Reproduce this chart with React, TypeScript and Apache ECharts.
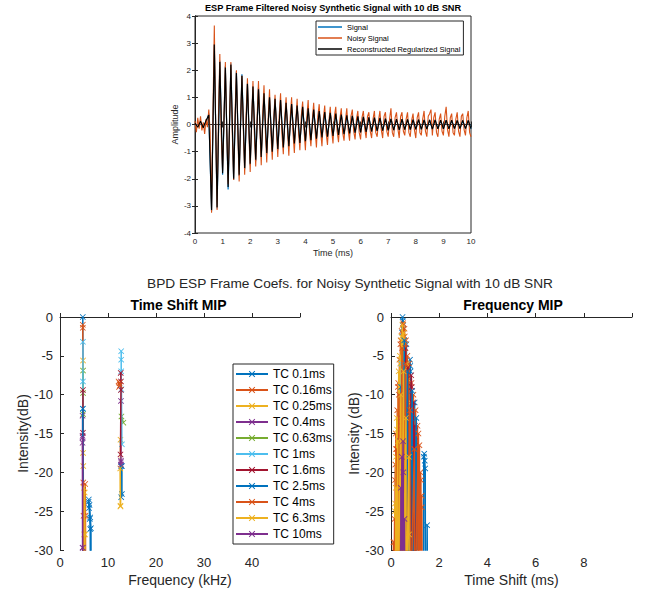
import React, { useEffect, useRef } from 'react';
import * as echarts from 'echarts';

const FONT = '"Liberation Sans", Arial, Helvetica, sans-serif';
const AX = '#262626';
const MATLAB_COLORS = ['#0072BD', '#D95319', '#EDB120', '#7E2F8E', '#77AC30', '#4DBEEE', '#A2142F'];
const X_SYMBOL = 'path://M0,1L1,0L5,4L9,0L10,1L6,5L10,9L9,10L5,6L1,10L0,9L4,5Z';

// ---------- Top panel: signals (amplitude), samples every 0.1 ms / 0.05 ms ----------
const signalStepMs = 0.1;
const signalValues = [
  0, 0, 0, 0, 0.05, 0.4, -3.2, 2.95, -3.1, 2.35,
  -1.85, 2.15, -2.4, 2.25, -2.05, 1.95, -1.9, 1.85, -1.65, 1.5,
  -1.5, 1.4, -1.35, 1.35, -1.2, 1.15, -1.1, 1.0, -1.0, 0.95,
  -0.95, 0.9, -0.85, 0.8, -0.8, 0.75, -0.72, 0.7, -0.68, 0.65,
  -0.63, 0.6, -0.58, 0.55, -0.53, 0.5, -0.48, 0.47, -0.45, 0.43,
  -0.42, 0.4, -0.39, 0.37, -0.36, 0.34, -0.33, 0.32, -0.31, 0.3,
  -0.29, 0.28, -0.27, 0.26, -0.26, 0.25, -0.24, 0.24, -0.23, 0.22,
  -0.22, 0.21, -0.21, 0.2, -0.2, 0.2, -0.19, 0.19, -0.19, 0.18,
  -0.18, 0.18, -0.18, 0.17, -0.17, 0.17, -0.17, 0.17, -0.16, 0.16,
  -0.16, 0.16, -0.16, 0.16, -0.15, 0.15, -0.15, 0.15, -0.15, 0.15,
  -0.15,
];
const reconstructedValues = [
  0.05, -0.1, 0.12, -0.12, 0.15, 0.35, -3.15, 2.95, -3.05, 2.3,
  -1.8, 2.1, -2.3, 2.2, -2.0, 1.9, -1.85, 1.8, -1.6, 1.5,
  -1.45, 1.4, -1.3, 1.3, -1.2, 1.15, -1.05, 1.0, -1.0, 0.95,
  -0.9, 0.9, -0.85, 0.8, -0.8, 0.75, -0.7, 0.7, -0.68, 0.65,
  -0.62, 0.6, -0.58, 0.55, -0.52, 0.5, -0.48, 0.46, -0.45, 0.43,
  -0.42, 0.4, -0.38, 0.37, -0.36, 0.34, -0.33, 0.32, -0.3, 0.3,
  -0.29, 0.28, -0.27, 0.26, -0.25, 0.25, -0.24, 0.24, -0.23, 0.22,
  -0.22, 0.21, -0.21, 0.2, -0.2, 0.2, -0.19, 0.19, -0.19, 0.18,
  -0.18, 0.18, -0.18, 0.17, -0.17, 0.17, -0.17, 0.17, -0.16, 0.16,
  -0.16, 0.16, -0.16, 0.16, -0.15, 0.15, -0.15, 0.15, -0.15, 0.15,
  -0.15,
];
const noisyStepMs = 0.05;
const noisyValues = [
  0.12, -0.28, 0.25, -0.15, 0.3, -0.22, 0.08, -0.35, 0.2, -0.1,
  0.55, -0.3, -3.25, 0.4, 3.65, -0.2, -3.15, 0.3, 2.6, -0.35,
  -1.7, 0.25, 2.3, -0.2, -2.2, 0.15, 2.3, -0.3, -2.05, 0.35,
  2.0, -0.25, -2.1, 0.2, 1.8, -0.15, -1.85, 0.3, 1.7, -0.2,
  -1.75, 0.1, 1.6, -0.3, -1.55, 0.25, 1.6, -0.1, -1.5, 0.3,
  1.45, -0.25, -1.4, 0.2, 1.3, -0.3, -1.3, 0.15, 1.1, -0.2,
  -1.2, 0.3, 1.15, -0.35, -1.1, 0.2, 1.0, -0.15, -1.15, 0.25,
  1.0, -0.3, -1.05, 0.1, 0.95, -0.25, -0.95, 0.3, 0.85, -0.2,
  -0.95, 0.25, 0.9, -0.3, -0.8, 0.15, 0.8, -0.2, -0.85, 0.3,
  0.75, -0.25, -0.8, 0.2, 0.7, -0.3, -0.75, 0.1, 0.65, -0.2,
  -0.7, 0.3, 0.65, -0.25, -0.65, 0.2, 0.6, -0.3, -0.6, 0.15,
  0.6, -0.2, -0.6, 0.3, 0.55, -0.25, -0.55, 0.2, 0.5, -0.3,
  -0.55, 0.25, 0.5, -0.15, -0.5, 0.3, 0.45, -0.25, -0.5, 0.2,
  0.5, -0.3, -0.45, 0.15, 0.5, -0.2, -0.5, 0.3, 0.45, -0.25,
  -0.45, 0.2, 0.6, -0.3, -0.45, 0.25, 0.45, -0.15, -0.5, 0.3,
  0.45, -0.25, -0.4, 0.2, 0.45, -0.3, -0.45, 0.15, 0.4, -0.2,
  -0.5, 0.25, 0.45, -0.3, -0.4, 0.2, 0.5, -0.25, -0.45, 0.3,
  0.4, 0.55, -0.4, 0.25, 0.45, -0.3, -0.45, 0.2, 0.4, -0.25,
  -0.4, 0.3, 0.65, -0.2, -0.45, 0.25, 0.4, -0.3, -0.4, 0.2,
  0.45, -0.25, -0.45, 0.3, 0.4, -0.2, -0.4, 0.25, 0.5, -0.3,
  -0.45,
];

// ---------- Bottom panels ----------
const tcLabels = [
  'TC 0.1ms', 'TC 0.16ms', 'TC 0.25ms', 'TC 0.4ms', 'TC 0.63ms', 'TC 1ms',
  'TC 1.6ms', 'TC 2.5ms', 'TC 4ms', 'TC 6.3ms', 'TC 10ms',
];
const freqTicksKHz = [0, 10, 20, 30, 40];
const timeShiftTicksMs = [0, 2, 4, 6, 8];

// "Time Shift MIP": [frequency kHz, intensity dB]; '-' breaks a line
const timeShiftMipPoints: any[][][] = [
  [[4.75, 0], [4.75, -40], [4.75, '-'], [5.95, -23.8], [6.05, -24.6], [6.15, -24.2], [6.3, -25.8], [6.45, -27.2], [6.5, -40], [6.5, '-'], [12.9, -19.2], [12.9, -22.8]],
  [[4.75, -1.0], [4.75, -1.4], [4.8, -40], [4.8, '-'], [5.25, -21.5], [5.3, -25.6], [5.35, -40], [5.35, '-'], [12.2, -8.3], [12.3, -9.0]],
  [[4.8, -5.6], [4.8, -17.5], [4.85, -19.2], [4.9, -40], [4.9, '-'], [5.15, -22.6], [5.2, -28], [5.25, -40], [5.25, '-'], [12.6, -15.8], [12.6, -24.3]],
  [[4.7, -12.7], [4.7, -15.3], [4.7, -16.2], [4.72, -29.7], [4.72, -40], [4.72, '-'], [12.7, -10.8], [12.7, -18.7]],
  [[4.8, -6.9], [4.8, -9.8], [4.8, -12.5], [4.85, -40], [4.85, '-'], [12.8, -12.8], [13.2, -13.6]],
  [[4.78, -3.2], [4.78, -8.3], [4.78, -11.8], [4.8, -40], [4.8, '-'], [12.75, -4.4], [12.75, -5.5], [12.75, -7.0], [12.8, -9.3], [12.9, -16.4]],
  [[4.78, -9.4], [4.78, -14.9], [4.8, -40], [4.8, '-'], [12.65, -7.2], [12.7, -8.3], [12.7, -9.4], [12.6, -17.7]],
  [[4.75, -11.8], [4.78, -40], [4.78, '-'], [6.0, -23.5], [6.2, -26], [6.3, -27.3], [6.35, -40], [6.35, '-'], [12.75, -19.2], [12.75, -23.2]],
  [[4.85, -21.3], [4.9, -25.6], [4.95, -40], [4.95, '-'], [12.4, -8.5], [12.5, -8.8]],
  [[5.0, -22], [5.05, -28], [5.1, -40], [5.1, '-'], [12.55, -19.5], [12.6, -24.4]],
  [[4.7, -15.5], [4.72, -29.7], [4.75, -40], [4.75, '-'], [12.7, -18.5], [12.7, -19]],
];

// "Frequency MIP": [time shift ms, intensity dB]
const frequencyMipPoints: any[][][] = [
  [[0.22, -40], [0.24, -27], [0.26, -40], [0.44, -40], [0.46, -2], [0.48, 0], [0.49, -0.5], [0.5, -1.5], [0.52, -40], [0.62, -40], [0.64, -3.5], [0.66, -40], [0.78, -40], [0.79, -5.5], [0.8, -6.3], [0.81, -7], [0.83, -40], [0.96, -40], [0.98, -11], [1.0, -40], [1.34, -40], [1.36, -18], [1.38, -17.6], [1.4, -18.5], [1.42, -19.5], [1.43, -40], [1.48, -40], [1.5, -26.8], [1.52, -40]],
  [[0.12, -40], [0.14, -29], [0.16, -40], [0.17, -21], [0.18, -19], [0.19, -40], [0.2, -15], [0.21, -17], [0.22, -40], [0.26, -12], [0.27, -40], [0.29, -9], [0.3, -8.5], [0.31, -40], [0.35, -5.5], [0.36, -40], [0.39, -3.5], [0.4, -3], [0.41, -40], [0.44, -1.8], [0.45, -40], [0.5, -0.8], [0.51, -1], [0.53, -40], [0.56, -1.5], [0.57, -2.5], [0.58, -40], [0.62, -3], [0.63, -40], [0.68, -5], [0.69, -40], [0.75, -6], [0.76, -40], [0.85, -8.5], [0.86, -40], [0.93, -10], [0.94, -40], [1.02, -12], [1.03, -40], [1.1, -14], [1.11, -40], [1.18, -16.5], [1.19, -40], [1.22, -20], [1.24, -21], [1.25, -40], [1.27, -23], [1.28, -24.5], [1.3, -40]],
  [[0.14, -40], [0.16, -25], [0.17, -24], [0.18, -40], [0.21, -18], [0.22, -40], [0.24, -13], [0.25, -14.5], [0.26, -40], [0.32, -7], [0.33, -40], [0.37, -5], [0.38, -6], [0.39, -40], [0.43, -2.5], [0.44, -40], [0.47, -1], [0.48, -40], [0.53, -2], [0.54, -3], [0.55, -40], [0.59, -4], [0.6, -40], [0.65, -6], [0.66, -12], [0.67, -40], [0.71, -8], [0.72, -40], [0.76, -21], [0.77, -23], [0.78, -40], [0.82, -11], [0.83, -40], [0.88, -26], [0.89, -40]],
  [[0.36, -40], [0.37, -16], [0.38, -40], [0.42, -13], [0.43, -14], [0.44, -40], [0.46, -15], [0.47, -17], [0.48, -40], [0.5, -19], [0.51, -40], [0.53, -21], [0.54, -23], [0.55, -40], [0.57, -24], [0.58, -40]],
  [[0.38, -40], [0.4, -10], [0.41, -40], [0.48, -9], [0.49, -40], [0.56, -12], [0.57, -14], [0.58, -40], [0.64, -13], [0.65, -40]],
  [[0.28, -40], [0.3, -25], [0.31, -40], [0.44, -6], [0.45, -40], [0.52, -9], [0.53, -40], [0.6, -11], [0.61, -17], [0.62, -40], [0.7, -15], [0.71, -40]],
  [[0.58, -40], [0.6, -4], [0.61, -40], [0.7, -6.5], [0.71, -40], [0.84, -7.5], [0.86, -9], [0.87, -40], [0.92, -11], [0.93, -40], [0.99, -14], [1.0, -16], [1.01, -40]],
  [[0.3, -40], [0.32, -21], [0.33, -40], [0.42, -9], [0.43, -40], [0.55, -3], [0.56, -40], [0.68, -7], [0.69, -40], [0.88, -9.5], [0.89, -40], [1.05, -13], [1.06, -40]],
  [[0.08, -40], [0.1, -29], [0.11, -40], [0.15, -26], [0.16, -40], [0.24, -17], [0.25, -40], [0.33, -10], [0.34, -40], [0.46, -4], [0.47, -40], [0.6, -6], [0.61, -40], [0.79, -12], [0.8, -40], [0.97, -17], [0.98, -40], [1.14, -15], [1.15, -40]],
  [[0.18, -40], [0.2, -22], [0.21, -40], [0.28, -16], [0.29, -40], [0.41, -10], [0.42, -40], [0.52, -7], [0.53, -40], [0.62, -13], [0.63, -40], [0.74, -18], [0.75, -28], [0.76, -40]],
  [[0.4, -40], [0.41, -22], [0.42, -40], [0.45, -18], [0.46, -40], [0.5, -16], [0.51, -20], [0.52, -40], [0.56, -26], [0.57, -40]],
];

function toXY(values: number[], step: number) {
  return values.map((v, i) => [Math.round(i * step * 1000) / 1000, v]);
}

const tickStyle = { show: true, inside: true, length: 3, lineStyle: { color: AX, width: 1 } };
const lineAxis = { show: true, lineStyle: { color: AX, width: 1 } };

export default function App() {
  const ref = useRef<HTMLDivElement>(null);
  useEffect(() => {
    document.body.style.margin = '0';
    if (!ref.current) return;
    const chart = echarts.init(ref.current, undefined, { renderer: 'svg' });

    const topLabel = { color: AX, fontSize: 8, fontFamily: FONT };
    const botLabel = { color: AX, fontSize: 13, fontFamily: FONT };

    const series: any[] = [
      {
        type: 'line', name: 'Signal', xAxisIndex: 0, yAxisIndex: 0,
        data: toXY(signalValues, signalStepMs), symbol: 'none', showSymbol: false,
        color: '#0072BD', lineStyle: { width: 1.2, color: '#0072BD' }, z: 2,
      },
      {
        type: 'line', name: 'Noisy Signal', xAxisIndex: 0, yAxisIndex: 0,
        data: toXY(noisyValues, noisyStepMs), symbol: 'none', showSymbol: false,
        color: '#D95319', lineStyle: { width: 1.1, color: '#D95319' }, z: 3,
      },
      {
        type: 'line', name: 'Reconstructed Regularized Signal', xAxisIndex: 0, yAxisIndex: 0,
        data: toXY(reconstructedValues, signalStepMs), symbol: 'none', showSymbol: false,
        color: '#000000', lineStyle: { width: 1.1, color: '#000000' }, z: 4,
      },
    ];

    tcLabels.forEach((name, i) => {
      const c = MATLAB_COLORS[i % 7];
      const common = {
        type: 'line', name, symbol: X_SYMBOL, symbolSize: 6, showSymbol: true,
        color: c, lineStyle: { width: 1.5, color: c }, itemStyle: { color: c },
        clip: true, connectNulls: false, z: 2 + i * 0.01,
      };
      series.push({ ...common, xAxisIndex: 2, yAxisIndex: 2, data: timeShiftMipPoints[i] });
      series.push({ ...common, xAxisIndex: 3, yAxisIndex: 3, data: frequencyMipPoints[i] });
    });

    const option: any = {
      animation: false,
      backgroundColor: '#ffffff',
      textStyle: { fontFamily: FONT },
      graphic: [
        { type: 'text', x: 333, y: 8, style: { text: 'ESP Frame Filtered Noisy Synthetic Signal with 10 dB SNR', fontSize: 9.2, fontWeight: 'bold', fontFamily: FONT, fill: '#000', align: 'center', verticalAlign: 'middle' } },
        { type: 'text', x: 350, y: 283, style: { text: 'BPD ESP Frame Coefs. for Noisy Synthetic Signal with 10 dB SNR', fontSize: 13.7, fontFamily: FONT, fill: AX, align: 'center', verticalAlign: 'middle' } },
        { type: 'text', x: 178.5, y: 305, style: { text: 'Time Shift MIP', fontSize: 14, fontWeight: 'bold', fontFamily: FONT, fill: '#000', align: 'center', verticalAlign: 'middle' } },
        { type: 'text', x: 513, y: 305, style: { text: 'Frequency MIP', fontSize: 14, fontWeight: 'bold', fontFamily: FONT, fill: '#000', align: 'center', verticalAlign: 'middle' } },
      ],
      legend: [
        {
          data: ['Signal', 'Noisy Signal', 'Reconstructed Regularized Signal'].map((n) => ({ name: n, icon: 'rect' })),
          orient: 'vertical', left: 316, top: 21, itemWidth: 24, itemHeight: 1.5, itemGap: 3,
          padding: [2, 3, 2, 2], backgroundColor: '#fff', borderColor: AX, borderWidth: 1, borderRadius: 0,
          textStyle: { fontSize: 7.5, color: '#000', fontFamily: FONT }, selectedMode: false,
        },
        {
          data: tcLabels,
          orient: 'vertical', left: 233, top: 364, itemWidth: 32, itemHeight: 8, itemGap: 4,
          padding: [4, 2, 4, 2], backgroundColor: '#fff', borderColor: AX, borderWidth: 1, borderRadius: 0,
          textStyle: { fontSize: 12, color: '#000', fontFamily: FONT }, selectedMode: false,
        },
      ],
      grid: [
        { left: 195, top: 16, width: 276, height: 217, show: true, borderColor: AX, borderWidth: 1, backgroundColor: '#fff', containLabel: false, outerBoundsMode: 'none' },
        { left: 60, top: 317, width: 240, height: 233, containLabel: false, outerBoundsMode: 'none' },
        { left: 391, top: 317, width: 241, height: 233, containLabel: false, outerBoundsMode: 'none' },
      ],
      xAxis: [
        { type: 'value', gridIndex: 0, min: 0, max: 10, interval: 1, axisLine: lineAxis, axisTick: tickStyle, splitLine: { show: false },
          axisLabel: { ...topLabel, margin: 4 }, name: 'Time (ms)', nameLocation: 'middle', nameGap: 15, nameTextStyle: { color: AX, fontSize: 9, fontFamily: FONT } },
        { type: 'value', gridIndex: 0, position: 'top', min: 0, max: 10, interval: 1, axisLine: lineAxis, axisTick: tickStyle, splitLine: { show: false }, axisLabel: { show: false } },
        { type: 'value', gridIndex: 1, min: 0, max: 50, interval: 10, axisLine: lineAxis, axisTick: { ...tickStyle, length: 4 }, splitLine: { show: false },
          axisLabel: { ...botLabel, margin: 6, formatter: (v: number) => (freqTicksKHz.includes(v) ? String(v) : '') },
          name: 'Frequency (kHz)', nameLocation: 'middle', nameGap: 23, nameTextStyle: { color: AX, fontSize: 14, fontFamily: FONT } },
        { type: 'value', gridIndex: 2, min: 0, max: 10, interval: 2, axisLine: lineAxis, axisTick: { ...tickStyle, length: 4 }, splitLine: { show: false },
          axisLabel: { ...botLabel, margin: 6, formatter: (v: number) => (timeShiftTicksMs.includes(v) ? String(v) : '') },
          name: 'Time Shift (ms)', nameLocation: 'middle', nameGap: 23, nameTextStyle: { color: AX, fontSize: 14, fontFamily: FONT } },
      ],
      yAxis: [
        { type: 'value', gridIndex: 0, min: -4, max: 4, interval: 1, axisLine: lineAxis, axisTick: tickStyle, splitLine: { show: false },
          axisLabel: { ...topLabel, margin: 4 }, name: 'Amplitude', nameLocation: 'middle', nameGap: 14, nameTextStyle: { color: AX, fontSize: 9, fontFamily: FONT } },
        { type: 'value', gridIndex: 0, position: 'right', min: -4, max: 4, interval: 1, axisLine: lineAxis, axisTick: tickStyle, splitLine: { show: false }, axisLabel: { show: false } },
        { type: 'value', gridIndex: 1, min: -30, max: 0, interval: 5, axisLine: lineAxis, axisTick: { ...tickStyle, length: 4 }, splitLine: { show: false },
          axisLabel: { ...botLabel, margin: 7 }, name: 'Intensity(dB)', nameLocation: 'middle', nameGap: 27, nameTextStyle: { color: AX, fontSize: 14, fontFamily: FONT } },
        { type: 'value', gridIndex: 2, min: -30, max: 0, interval: 5, axisLine: lineAxis, axisTick: { ...tickStyle, length: 4 }, splitLine: { show: false },
          axisLabel: { ...botLabel, margin: 7 }, name: 'Intensity (dB)', nameLocation: 'middle', nameGap: 28, nameTextStyle: { color: AX, fontSize: 14, fontFamily: FONT } },
      ],
      series,
    };
    chart.setOption(option);
    return () => chart.dispose();
  }, []);
  return <div ref={ref} style={{ width: 646, height: 595 }} />;
}
